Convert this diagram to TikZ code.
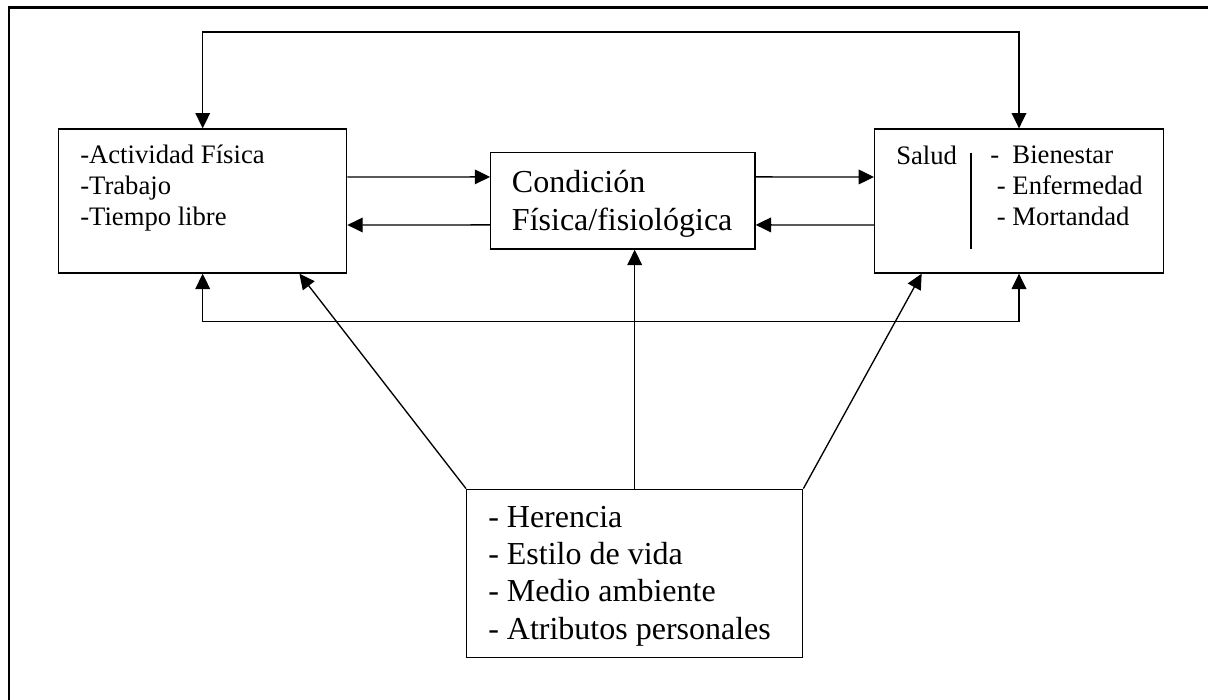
\documentclass[tikz,border=0pt]{standalone}
\usepackage{fontspec}
\setmainfont{Liberation Serif}
\usepackage{tikz}
\usetikzlibrary{arrows.meta,positioning}
\tikzset{
  box/.style={draw, line width=1pt, rectangle, inner sep=0pt},
  boxtext/.style={anchor=base west, align=left, inner sep=0pt},
  small/.style={font=\fontsize{20}{23.2}\selectfont},
  big/.style={font=\fontsize{24}{28}\selectfont},
  link/.style={line width=1pt, -{Triangle[length=11.5pt,width=11pt]}},
  linkboth/.style={line width=1pt, {Triangle[length=11.5pt,width=11pt]}-{Triangle[length=11.5pt,width=11pt]}}
}

\begin{document}
\begin{tikzpicture}[x=0.75pt, y=-0.75pt]
      \useasboundingbox (0,0) rectangle (1208,700);
      % Frame (only top and left edges show)
      \draw[line width=1.8pt] (9,700) -- (9,7.3) -- (1208,7.3);
      % Boxes
      \node[box, minimum width=216pt, minimum height=108pt] (actividad) at (202.7,201) {};
      \node[box, minimum width=198.2pt, minimum height=72.2pt] (condicion) at (622.9,200.9) {};
      \node[box, minimum width=216.5pt, minimum height=108pt] (salud) at (1019,201) {};
      \node[box, minimum width=252pt, minimum height=126pt] (factores) at (634.7,573.3) {};
      % Texts (base = last line)
      \node[boxtext, small] (actividadtxt) at (80,225.7) {-Actividad Física\\-Trabajo\\-Tiempo libre};
      \node[boxtext, big] (condiciontxt) at (511.7,230) {Condición\\Física/fisiológica};
      \node[boxtext, small] (saludtxt) at (896,164) {Salud};
      \node[boxtext, small] (estadostxt) at (990,225.7) {-\ \ Bienestar\\\hspace*{5pt}- Enfermedad\\\hspace*{5pt}- Mortandad};
      \node[boxtext, big] (factorestxt) at (488,639.3) {- Herencia\\- Estilo de vida\\- Medio ambiente\\- Atributos personales};
      % Separator inside Salud box
      \draw[line width=1pt] (971,152.7) -- (971,249.3);
      % Loops above and below
      \draw[linkboth] (actividad.north) -- ++(0,-96.3) -| (salud.north);
      \draw[linkboth] (actividad.south) -- ++(0,48) -| (salud.south);
      % Horizontal arrows
      \draw[link] ([yshift=18pt]actividad.east) -- ([yshift=18pt]condicion.west);
      \draw[link] ([yshift=-18pt]condicion.west) -- ([yshift=-18pt]actividad.east);
      \draw[link] ([yshift=18pt]condicion.east) -- ([yshift=18pt]salud.west);
      \draw[link] ([yshift=-18pt]salud.west) -- ([yshift=-18pt]condicion.east);
      % From the bottom box
      \draw[link] (factores.north west) -- ([xshift=72.5pt]actividad.south);
      \draw[link] (factores.north) -- (factores.north |- condicion.south);
      \draw[link] (factores.north east) -- ([xshift=-73pt]salud.south);
\end{tikzpicture}
\end{document}
